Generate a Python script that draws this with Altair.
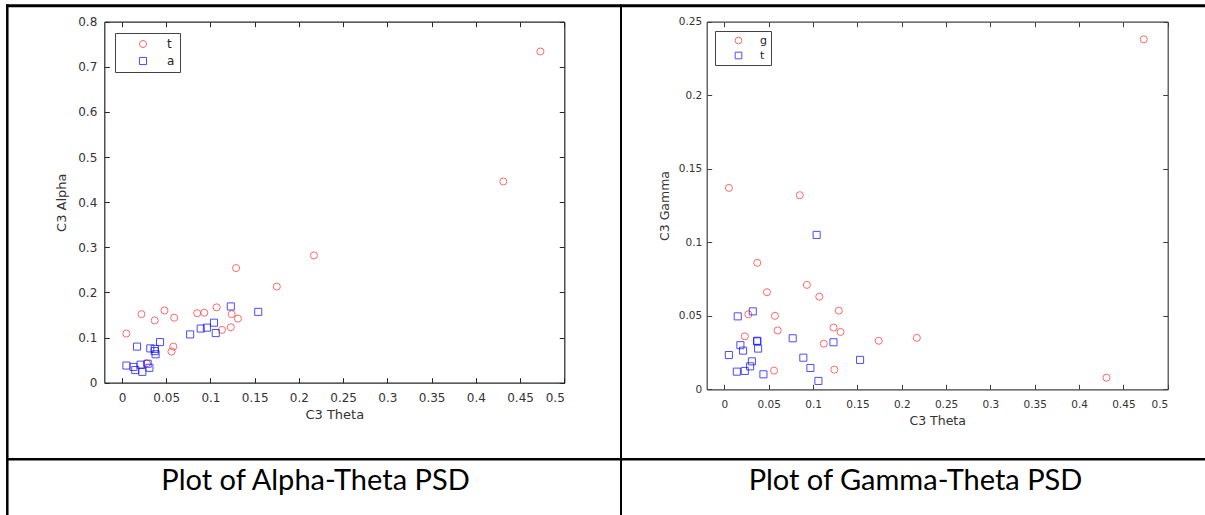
import altair as alt
import pandas as pd

# ---- data -------------------------------------------------------------
# Alpha vs Theta (C3)
at_theta_red = [0.473, 0.431, 0.217, 0.175, 0.131, 0.129, 0.124, 0.123, 0.113, 0.107,
                0.093, 0.085, 0.059, 0.058, 0.056, 0.048, 0.037, 0.028, 0.022, 0.005]
at_alpha_red = [0.734, 0.446, 0.282, 0.213, 0.142, 0.254, 0.152, 0.123, 0.117, 0.167,
                0.155, 0.154, 0.144, 0.080, 0.069, 0.160, 0.138, 0.043, 0.152, 0.109]
at_theta_blue = [0.005, 0.013, 0.015, 0.017, 0.021, 0.023, 0.029, 0.031, 0.032, 0.037,
                 0.037, 0.038, 0.043, 0.077, 0.089, 0.096, 0.104, 0.106, 0.123, 0.154]
at_alpha_blue = [0.038, 0.035, 0.028, 0.080, 0.040, 0.024, 0.042, 0.033, 0.076, 0.075,
                 0.070, 0.063, 0.090, 0.107, 0.120, 0.122, 0.133, 0.110, 0.169, 0.157]

# Gamma vs Theta (C3)
gt_theta_red = [0.473, 0.431, 0.217, 0.174, 0.131, 0.129, 0.124, 0.123, 0.112, 0.107,
                0.093, 0.085, 0.060, 0.057, 0.056, 0.048, 0.037, 0.027, 0.023, 0.005]
gt_gamma_red = [0.238, 0.0079, 0.035, 0.033, 0.039, 0.0535, 0.0134, 0.042, 0.031, 0.063,
                0.071, 0.132, 0.040, 0.050, 0.0127, 0.066, 0.086, 0.051, 0.036, 0.137]
gt_theta_blue = [0.005, 0.014, 0.015, 0.018, 0.021, 0.023, 0.029, 0.031, 0.032, 0.037,
                 0.037, 0.038, 0.044, 0.077, 0.089, 0.097, 0.104, 0.106, 0.123, 0.153]
gt_gamma_blue = [0.0233, 0.012, 0.0496, 0.030, 0.0263, 0.0125, 0.0156, 0.019, 0.053, 0.0326,
                 0.033, 0.0277, 0.0102, 0.0347, 0.0215, 0.0145, 0.105, 0.0057, 0.032, 0.020]

left_series = ["t", "a"]
right_series = ["g", "t"]
x_ticks = [0, 0.05, 0.1, 0.15, 0.2, 0.25, 0.3, 0.35, 0.4, 0.45, 0.5]
alpha_ticks = [0, 0.1, 0.2, 0.3, 0.4, 0.5, 0.6, 0.7, 0.8]
gamma_ticks = [0, 0.05, 0.1, 0.15, 0.2, 0.25]
captions = ["Plot of Alpha-Theta PSD", "Plot of Gamma-Theta PSD"]

W, H = 1205, 515
FONT = "DejaVu Sans"
TEXT = "#333333"
RED, BLUE = "#ff2a2a", "#0000ff"


def frame_df(theta_r, val_r, theta_b, val_b, names):
    return pd.DataFrame({
        "series": [names[0]] * len(theta_r) + [names[1]] * len(theta_b),
        "theta": theta_r + theta_b,
        "value": val_r + val_b,
    })


def panel(df, names, ytitle, yticks, ydom, box, fonts, pads, legend_opts, frame_color):
    left, right, top, bottom = box
    fs_lab, fs_title = fonts
    ylab_pad, ytitle_pad = pads
    xs = alt.Scale(domain=[-0.02, 0.5], range=[left, right], nice=False, zero=False)
    ys = alt.Scale(domain=ydom, range=[bottom, top], nice=False, zero=False)

    leg = alt.Legend(title=None, orient="none", **legend_opts)
    color = alt.Color("series:N", scale=alt.Scale(domain=names, range=[RED, BLUE]), legend=leg)
    shape = alt.Shape("series:N", scale=alt.Scale(domain=names, range=["circle", "square"]), legend=leg)

    # data points with the labelled axes (bottom / left)
    main = alt.Chart(df).mark_point(filled=False, size=50, strokeWidth=1).encode(
        x=alt.X("theta:Q", scale=xs, axis=alt.Axis(
            orient="bottom", offset=bottom - H, values=x_ticks, format="~g",
            ticks=False, domain=False, grid=False, labelPadding=10,
            labelFontSize=fs_lab, labelColor=TEXT, labelFont=FONT,
            title="C3 Theta", titleFontSize=fs_title, titleFontWeight="normal",
            titleColor=TEXT, titleFont=FONT, titlePadding=5)),
        y=alt.Y("value:Q", scale=ys, axis=alt.Axis(
            orient="left", offset=-left, values=yticks, format="~g",
            ticks=False, domain=False, grid=False, labelPadding=ylab_pad,
            labelFontSize=fs_lab, labelColor=TEXT, labelFont=FONT,
            title=ytitle, titleFontSize=fs_title, titleFontWeight="normal",
            titleColor=TEXT, titleFont=FONT, titlePadding=ytitle_pad)),
        color=color,
        shape=shape,
    )

    tick_style = dict(labels=False, title=None, grid=False, ticks=True, tickSize=5,
                      tickColor=frame_color, domain=True, domainColor=frame_color,
                      domainWidth=1.2, tickWidth=1)

    # inward ticks and box edges: bottom and left
    edge_a = alt.Chart(df).mark_point(opacity=0).encode(
        x=alt.X("theta:Q", scale=xs, axis=alt.Axis(orient="top", offset=-bottom,
                                                   values=x_ticks, **tick_style)),
        y=alt.Y("value:Q", scale=ys, axis=alt.Axis(orient="right", offset=left - W,
                                                   values=yticks, **tick_style)),
    )
    # inward ticks and box edges: top and right
    edge_b = alt.Chart(df).mark_point(opacity=0).encode(
        x=alt.X("theta:Q", scale=xs, axis=alt.Axis(orient="bottom", offset=top - H,
                                                   values=x_ticks, **tick_style)),
        y=alt.Y("value:Q", scale=ys, axis=alt.Axis(orient="left", offset=-right,
                                                   values=yticks, **tick_style)),
    )
    return [edge_a, edge_b, main]


df_left = frame_df(at_theta_red, at_alpha_red, at_theta_blue, at_alpha_blue, left_series)
df_right = frame_df(gt_theta_red, gt_gamma_red, gt_theta_blue, gt_gamma_blue, right_series)

legend_left = dict(legendX=115, legendY=33, padding=5, symbolOffset=17, labelOffset=18,
                   rowPadding=5, strokeColor="#444444", fillColor="white",
                   labelFontSize=12, labelColor="#222222", labelFont=FONT,
                   symbolSize=50, symbolStrokeWidth=1)
legend_right = dict(legendX=715, legendY=31, padding=4, symbolOffset=14, labelOffset=16,
                    rowPadding=3, strokeColor="#444444", fillColor="white",
                    labelFontSize=11, labelColor="#222222", labelFont=FONT,
                    symbolSize=44, symbolStrokeWidth=1)

layers = []
layers += panel(df_left, left_series, "C3 Alpha", alpha_ticks, [0, 0.8],
                (104.3, 564.3, 21.7, 382.7), (12, 13), (7.5, 9), legend_left, "#262626")
layers += panel(df_right, right_series, "C3 Gamma", gamma_ticks, [0, 0.25],
                (706.7, 1167.7, 21.7, 389.3), (10.5, 12.5), (5, 7), legend_right, "#404040")


# table borders around the two figures and their captions
def hline(y, x1, x2, w):
    return alt.Chart().mark_rule(color="black", strokeWidth=w).encode(
        x=alt.value(x1), x2=alt.value(x2), y=alt.value(y))


def vline(x, y1, y2, w):
    return alt.Chart().mark_rule(color="black", strokeWidth=w).encode(
        x=alt.value(x), y=alt.value(y1), y2=alt.value(y2))


borders = [
    hline(5.7, 6, W, 3),
    hline(459.2, 6, W, 2.5),
    vline(7.3, 4.5, H, 2.5),
    vline(621, 4.5, H, 2),
]

caption_marks = [
    alt.Chart().mark_text(font="Lato", fontSize=29, align="center", baseline="alphabetic",
                          color="black").encode(
        x=alt.value(cx), y=alt.value(490), text=alt.value(txt))
    for cx, txt in zip([315.5, 915.5], captions)
]

chart = alt.layer(*layers, *borders, *caption_marks).resolve_scale(
    x="independent", y="independent", color="independent", shape="independent"
).resolve_axis(
    x="independent", y="independent"
).resolve_legend(
    color="independent", shape="independent"
).properties(
    width=W, height=H, padding=0,
    autosize=alt.AutoSizeParams(type="none"),
    background="white",
).configure_view(stroke=None)

chart.save("out.html", embed_options={"renderer": "svg", "actions": False})
